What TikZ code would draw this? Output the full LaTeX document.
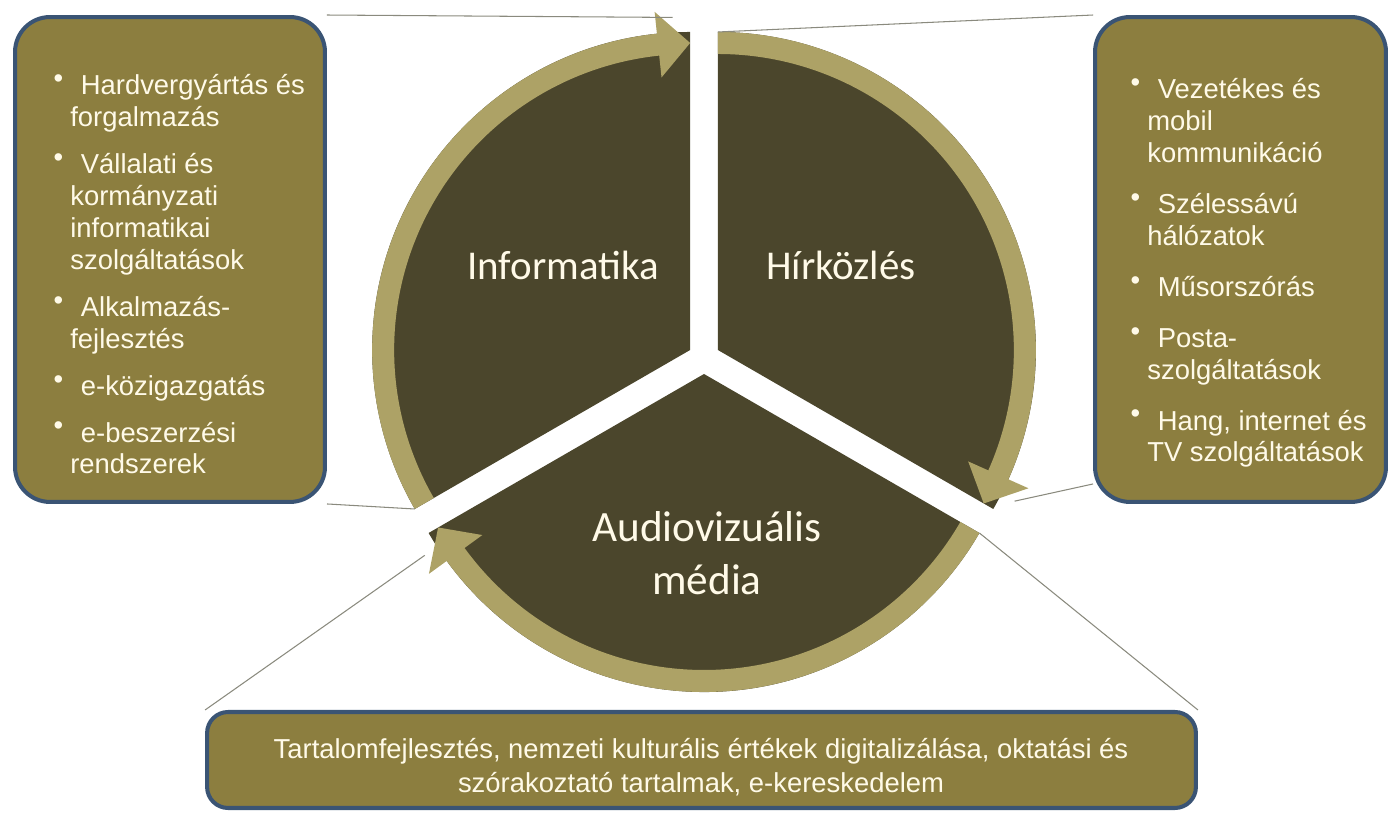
\documentclass[tikz,border=0pt]{standalone}
\usepackage{fontspec}
\setmainfont{Liberation Sans}
\newfontfamily\calibri{Carlito}

\definecolor{segdark}{HTML}{4B462C}
\definecolor{ringlight}{HTML}{ADA266}
\definecolor{boxfill}{HTML}{8C7E3F}
\definecolor{boxedge}{HTML}{3A5474}
\definecolor{cream}{HTML}{FFFAE8}
\definecolor{linegray}{HTML}{8A8A7E}

% felsorolásjel
\newcommand{\pont}{\leavevmode\llap{\raisebox{4pt}{\textbullet}\hspace{4pt}}\hspace{6pt}}

\tikzset{
  sector/.style={fill=segdark},
  ringarrow/.style={fill=ringlight},
  infobox/.style={draw=boxedge,line width=2.3pt,fill=boxfill,rounded corners=0.7cm},
  boxtext/.style={text=cream,inner sep=0pt,align=left,font=\fontsize{15.6pt}{18.2pt}\selectfont},
  seglabel/.style={text=cream,inner sep=0pt,align=center,font=\calibri\fontsize{23.3pt}{30.2pt}\selectfont},
  conn/.style={linegray,line width=0.6pt}
}

\begin{document}
\begin{tikzpicture}[x=0.02cm,y=0.02cm]
\useasboundingbox (0,0) rectangle (1388,813);

% a három körcikk nyíllal
\begin{scope}[shift={(704,455)}]
\foreach \a/\nm in {90/info,330/hir,210/av}{
  \begin{scope}[shift={(\a+60:16)}]
    \fill[sector] (0,0) -- (\a:318) arc[start angle=\a, end angle=\a+120, radius=318] -- cycle;
    \fill[ringarrow] (\a+120:318) arc[start angle=\a+120, end angle=\a+6, radius=318]
      -- (\a+6:340) -- (\a:307) -- (\a+6:274) -- (\a+6:296)
      arc[start angle=\a+6, end angle=\a+120, radius=296] -- cycle;
    \coordinate (\nm-start) at (\a+120:318);
    \coordinate (\nm-head) at (\a+3:333);
  \end{scope}
}
\end{scope}

% keretek
\node[infobox,minimum width=6.2cm,minimum height=9.7cm] (lbox) at (170,553.5) {};
\node[infobox,minimum width=5.82cm,minimum height=9.7cm] (rbox) at (1240.5,553.5) {};
\node[infobox,rounded corners=0.42cm,minimum width=19.78cm,minimum height=1.92cm] (bbox) at (701.5,53) {};

% összekötő vonalak
\draw[conn] (lbox.north east) -- (info-head);
\draw[conn] (lbox.south east) -- (info-start);
\draw[conn] (rbox.north west) -- (hir-start);
\draw[conn] ([yshift=0.4cm]rbox.south west) -- (hir-head);
\draw[conn] (bbox.north west) -- (av-head);
\draw[conn] (bbox.north east) -- (av-start);

% feliratok a körcikkekben
\node[seglabel,anchor=base] (info) at (563,533) {Informatika};
\node[seglabel,anchor=base] (hir) at (841,533) {Hírközlés};
\node[seglabel,anchor=base,font=\calibri\fontsize{24.6pt}{30.7pt}\selectfont] (av) at (707,218) {Audiovizuális\\média};

% szövegek a keretekben
\node[boxtext,anchor=base west] (ltext) at (70,339) {%
\pont Hardvergyártás és\\forgalmazás\\[8.5pt]
\pont Vállalati és\\kormányzati\\informatikai\\szolgáltatások\\[8.5pt]
\pont Alkalmazás-\\fejlesztés\\[8.5pt]
\pont e-közigazgatás\\[8.5pt]
\pont e-beszerzési\\rendszerek};

\node[boxtext,anchor=base west] (rtext) at (1147,351) {%
\pont Vezetékes és\\mobil\\kommunikáció\\[10.8pt]
\pont Szélessávú\\hálózatok\\[10.8pt]
\pont Műsorszórás\\[10.8pt]
\pont Posta-\\szolgáltatások\\[10.8pt]
\pont Hang, internet és\\TV szolgáltatások};

\node[boxtext,align=center,anchor=base,font=\fontsize{15.6pt}{19.9pt}\selectfont] (btext) at (701,20)
  {Tartalomfejlesztés, nemzeti kulturális értékek digitalizálása, oktatási és\\szórakoztató tartalmak, e-kereskedelem};

\end{tikzpicture}
\end{document}
